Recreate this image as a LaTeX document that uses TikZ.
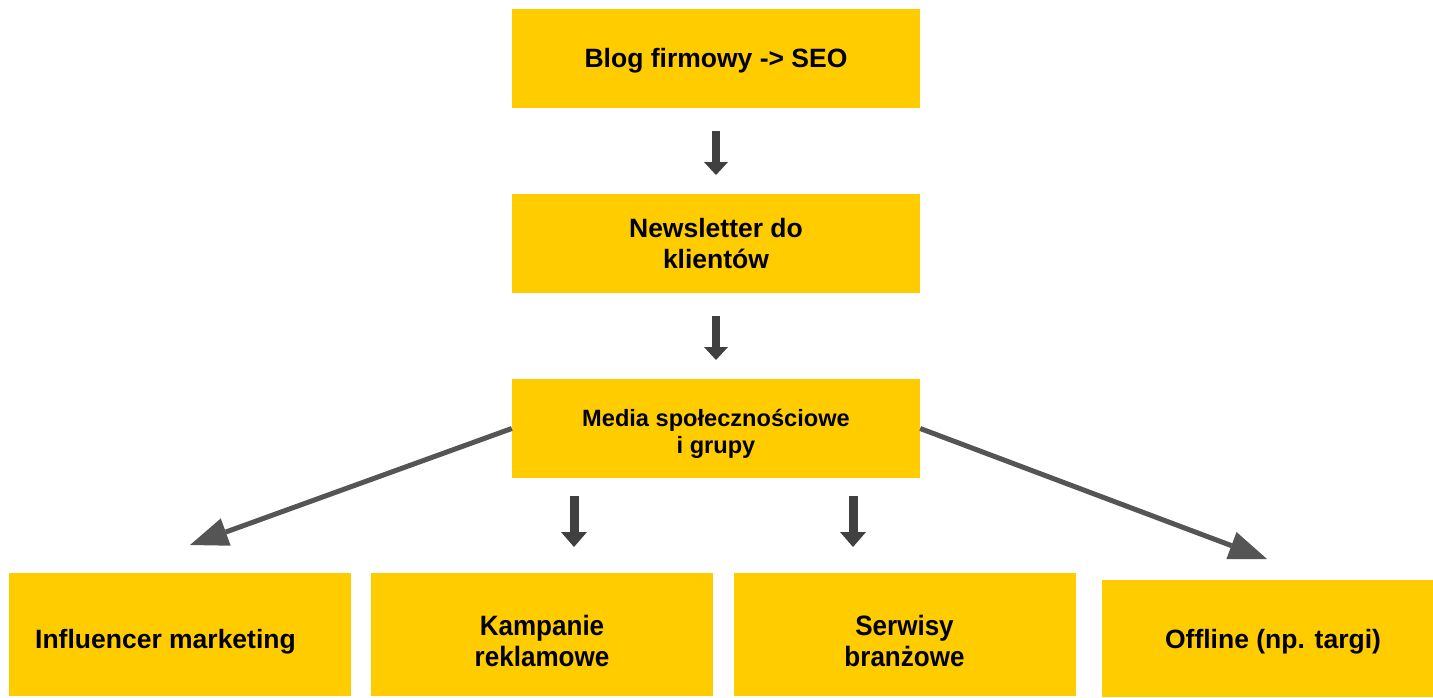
\documentclass[tikz,border=0pt]{standalone}
\usepackage{fontspec}
\setmainfont{Liberation Sans}
\newfontfamily\narrowsans[FakeStretch=0.93]{Liberation Sans}
\usetikzlibrary{arrows.meta}
\definecolor{boxyellow}{HTML}{FFCC00}
\definecolor{shortarrow}{HTML}{404040}
\definecolor{longarrow}{HTML}{555555}
\begin{document}
\begin{tikzpicture}[x=1pt,y=-1pt,
  box/.style={fill=boxyellow, inner sep=0pt},
  topbox/.style={box, minimum width=408pt, minimum height=99pt},
  botbox/.style={box, minimum width=342pt, minimum height=123pt},
  txt/.style={inner sep=0pt, align=center, font=\bfseries\fontsize{26.5}{31}\selectfont},
  narrowtxt/.style={inner sep=0pt, align=center, font=\narrowsans\bfseries\fontsize{28}{30.5}\selectfont},
  shortarr/.style={draw=shortarrow, line width=8pt, -{Triangle[length=13pt,width=24pt,line width=0pt]}},
  lowarr/.style={draw=shortarrow, line width=9pt, -{Triangle[length=15pt,width=26pt,line width=0pt]}},
  longarr/.style={draw=longarrow, line width=5pt, -{Triangle[length=38pt,width=29pt,line width=0pt]}}
]
\useasboundingbox (0,0) rectangle (1433,697);

% boxes
\node[topbox] (blog) at (716,58.5) {};
\node[topbox] (news) at (716,243.5) {};
\node[topbox] (media) at (716,428.5) {};
\node[botbox] (infl) at (180,634.5) {};
\node[botbox] (kamp) at (542,634.5) {};
\node[botbox] (serw) at (904.5,634.5) {};
\node[box, minimum width=331pt, minimum height=117pt] (off) at (1267.5,638.5) {};

% texts
\node[txt] (blogtxt) at (716,60.5) {Blog firmowy -> SEO};
\node[txt] (newstxt) at (716,243.5) {Newsletter do\\klientów};
\node[txt, font=\bfseries\fontsize{23.6}{26.6}\selectfont] (mediatxt) at (716,434) {Media społecznościowe\\i grupy};
\node[txt] (infltxt) at (165.5,641.5) {Influencer marketing};
\node[narrowtxt] (kamptxt) at (542,641) {Kampanie\\reklamowe};
\node[narrowtxt] (serwtxt) at (904.5,641) {Serwisy\\branżowe};
\node[txt] (offtxt) at (1273,641.5) {Offline (np. targi)};

% arrows
\coordinate (a1s) at (716,131);
\coordinate (a1e) at (716,175);
\coordinate (a2s) at (716,316);
\coordinate (a2e) at (716,360);
\coordinate (a3s) at (574,496);
\coordinate (a3e) at (574,547);
\coordinate (a4s) at (853,496);
\coordinate (a4e) at (853,547);
\coordinate (tipL) at (190,545);
\coordinate (tipR) at (1267,559);

\draw[shortarr] (a1s) -- (a1e);
\draw[shortarr] (a2s) -- (a2e);
\draw[lowarr] (a3s) -- (a3e);
\draw[lowarr] (a4s) -- (a4e);
\draw[longarr] (media.west) -- (tipL);
\draw[longarr] (media.east) -- (tipR);
\end{tikzpicture}
\end{document}
